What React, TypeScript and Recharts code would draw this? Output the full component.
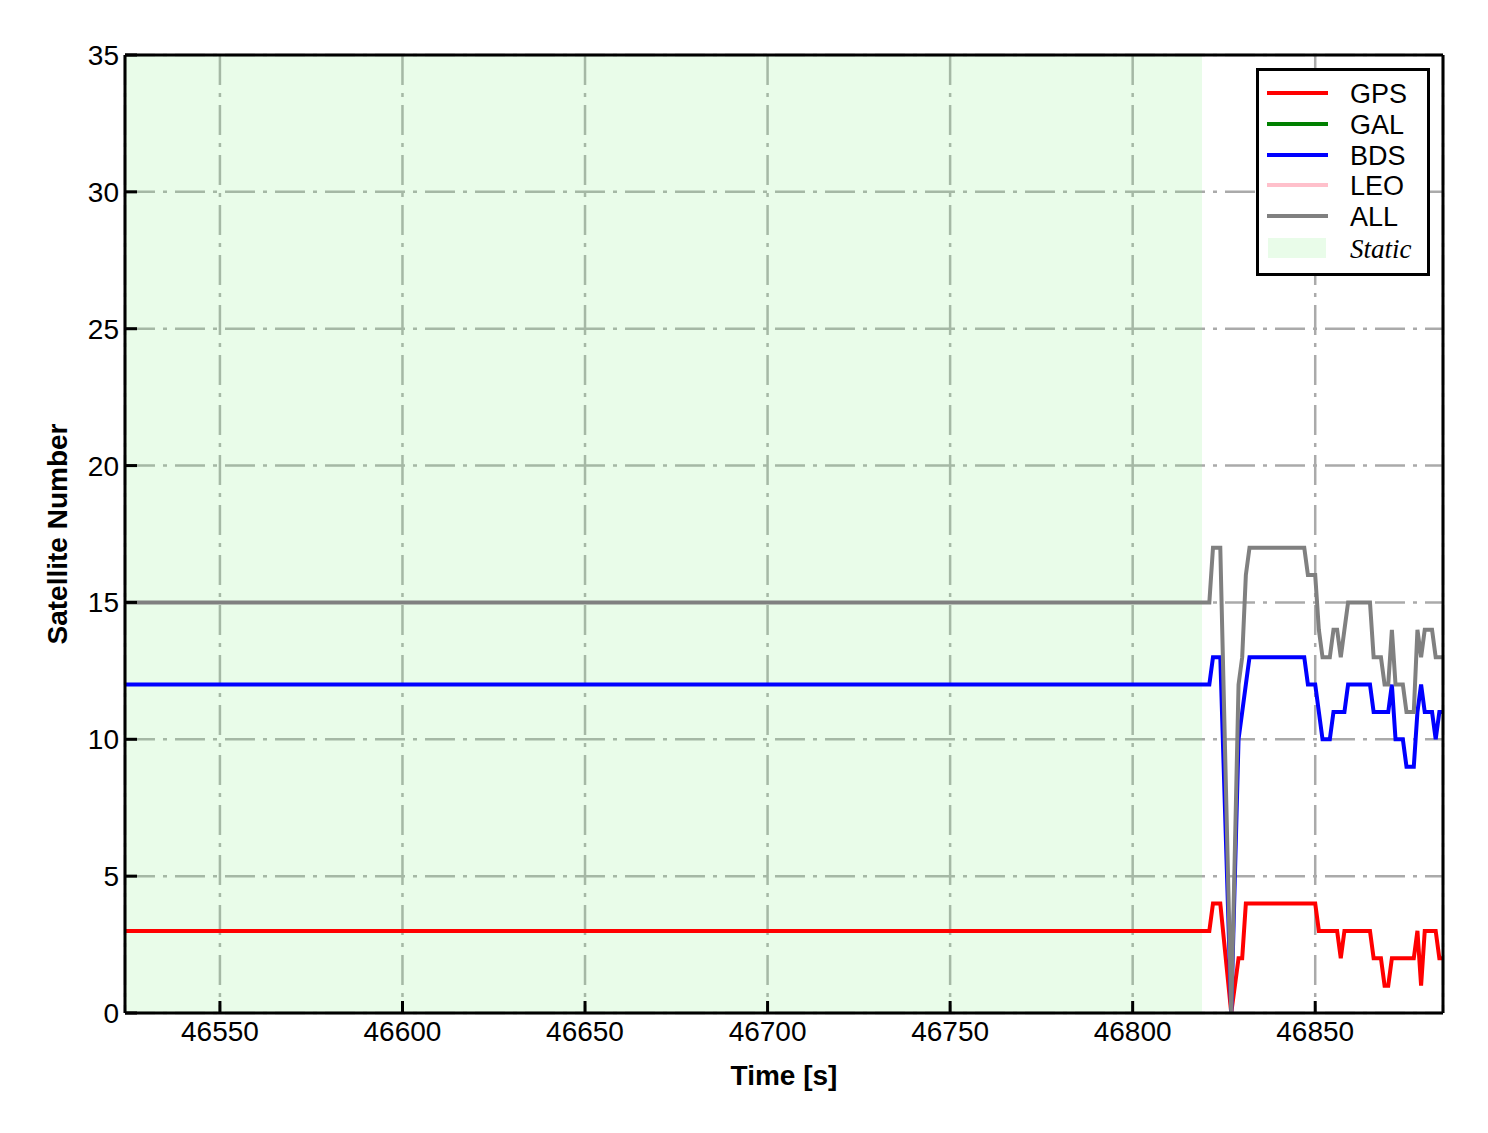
import React from "react";
import {
  LineChart,
  Line,
  XAxis,
  YAxis,
  CartesianGrid,
  ReferenceArea,
  ReferenceLine,
  Legend,
  Label,
} from "recharts";

// epochs [s] and satellite counts per system
const times = [
  46524, 46820, 46821, 46822, 46823, 46824, 46827, 46829, 46830, 46831, 46832,
  46847, 46848, 46849, 46850, 46851, 46852, 46853, 46854, 46855, 46856, 46857,
  46858, 46859, 46864, 46865, 46866, 46867, 46868, 46869, 46870, 46871, 46872,
  46873, 46874, 46875, 46876, 46877, 46878, 46879, 46880, 46881, 46882, 46883,
  46884, 46885,
];
const gps = [
  3, 3, 3, 4, 4, 4, 0, 2, 2, 4, 4,
  4, 4, 4, 4, 3, 3, 3, 3, 3, 3, 2,
  3, 3, 3, 3, 2, 2, 2, 1, 1, 2, 2,
  2, 2, 2, 2, 2, 3, 1, 3, 3, 3, 3,
  2, 2,
];
const bds = [
  12, 12, 12, 13, 13, 13, 0, 10, 11, 12, 13,
  13, 12, 12, 12, 11, 10, 10, 10, 11, 11, 11,
  11, 12, 12, 12, 11, 11, 11, 11, 11, 12, 10,
  10, 10, 9, 9, 9, 11, 12, 11, 11, 11, 10,
  11, 11,
];
const all = [
  15, 15, 15, 17, 17, 17, 0, 12, 13, 16, 17,
  17, 16, 16, 16, 14, 13, 13, 13, 14, 14, 13,
  14, 15, 15, 15, 13, 13, 13, 12, 12, 14, 12,
  12, 12, 11, 11, 11, 14, 13, 14, 14, 14, 13,
  13, 13,
];

const xTicks = [46550, 46600, 46650, 46700, 46750, 46800, 46850];
const yTicks = [0, 5, 10, 15, 20, 25, 30, 35];
const xDomain = [46524, 46885];
const staticEnd = 46819;

const legendItems = [
  { name: "GPS", color: "#ff0000" },
  { name: "GAL", color: "#008000" },
  { name: "BDS", color: "#0000ff" },
  { name: "LEO", color: "#ffc0cb" },
  { name: "ALL", color: "#808080" },
];

const data = times.map((t, i) => ({ t, gps: gps[i], bds: bds[i], all: all[i] }));

const FONT = "'Liberation Sans', Arial, sans-serif";
const LW = 4;

const XTick = (props: any) => {
  const { x, y, payload } = props;
  return (
    <g>
      <line x1={x} x2={x} y1={y} y2={y - 12} stroke="#000" strokeWidth={3} />
      <text x={x} y={y + 28} textAnchor="middle" fontSize={28} fontFamily={FONT} fill="#000">
        {payload.value}
      </text>
    </g>
  );
};

const YTick = (props: any) => {
  const { x, y, payload } = props;
  return (
    <g>
      <line x1={x} x2={x + 12} y1={y} y2={y} stroke="#000" strokeWidth={3} />
      <text x={x - 6} y={y + 10} textAnchor="end" fontSize={28} fontFamily={FONT} fill="#000">
        {payload.value}
      </text>
    </g>
  );
};

const renderLegend = () => {
  const rowY = [25, 56, 87, 117, 148];
  return (
    <svg width={174} height={208} style={{ display: "block" }}>
      <rect x={1.5} y={1.5} width={171} height={205} fill="#fff" stroke="#000" strokeWidth={3} />
      {legendItems.map((item, i) => (
        <g key={item.name}>
          <line x1={11} x2={72} y1={rowY[i]} y2={rowY[i]} stroke={item.color} strokeWidth={LW} />
          <text x={94} y={rowY[i] + 10} fontSize={27} fontFamily={FONT} fill="#000">
            {item.name}
          </text>
        </g>
      ))}
      <rect x={12} y={170} width={58} height={20} fill="#90ee90" fillOpacity={0.2} />
      <text
        x={94}
        y={190}
        fontSize={27}
        fontStyle="italic"
        fontFamily="'Liberation Serif', 'Times New Roman', serif"
        fill="#000"
      >
        Static
      </text>
    </svg>
  );
};

export default function App() {
  return (
    <div style={{ position: "absolute", left: 0, top: 0, background: "#fff" }}>
      <LineChart
        width={1488}
        height={1133}
        data={data}
        margin={{ top: 55, right: 45, bottom: 60, left: 45 }}
      >
        <ReferenceArea
          x1={xDomain[0]}
          x2={staticEnd}
          y1={0}
          y2={35}
          fill="#90ee90"
          fillOpacity={0.2}
          stroke="none"
        />
        <CartesianGrid stroke="#aaaaaa" strokeWidth={2.5} strokeDasharray="30 8 4 8" />
        <XAxis
          dataKey="t"
          type="number"
          domain={xDomain}
          allowDataOverflow
          ticks={xTicks}
          tick={<XTick />}
          tickLine={false}
          tickSize={0}
          tickMargin={0}
          height={60}
          axisLine={{ stroke: "#000", strokeWidth: 3 }}
        >
          <Label
            value="Time [s]"
            position="center"
            dy={32}
            style={{ fontSize: 28, fontWeight: "bold", fontFamily: FONT, fill: "#000" }}
          />
        </XAxis>
        <YAxis
          type="number"
          domain={[0, 35]}
          ticks={yTicks}
          tick={<YTick />}
          tickLine={false}
          tickSize={0}
          tickMargin={0}
          width={80}
          axisLine={{ stroke: "#000", strokeWidth: 3 }}
        >
          <Label
            value="Satellite Number"
            position="center"
            angle={-90}
            dx={-28}
            style={{ fontSize: 28, fontWeight: "bold", fontFamily: FONT, fill: "#000", textAnchor: "middle" }}
          />
        </YAxis>
        <Line dataKey="gps" name="GPS" stroke="#ff0000" strokeWidth={LW} dot={false} isAnimationActive={false} />
        <Line dataKey="bds" name="BDS" stroke="#0000ff" strokeWidth={LW} dot={false} isAnimationActive={false} />
        <Line dataKey="all" name="ALL" stroke="#808080" strokeWidth={LW} dot={false} isAnimationActive={false} />
        <ReferenceLine y={35} stroke="#000" strokeWidth={3} />
        <ReferenceLine x={xDomain[1]} stroke="#000" strokeWidth={3} />
        <Legend
          layout="vertical"
          align="center"
          verticalAlign="middle"
          content={renderLegend}
          wrapperStyle={{ top: 68, left: 1256, width: 174, height: 208 }}
        />
      </LineChart>
    </div>
  );
}
